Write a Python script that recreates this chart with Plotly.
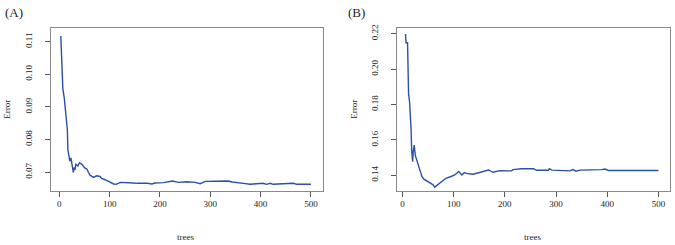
import plotly.graph_objects as go

trees_a = [3, 5, 6, 7, 10, 13, 16, 17, 19, 21, 23, 25, 28, 29, 31, 33, 37, 40, 45, 50, 55,
           58, 61, 68, 74, 81, 84, 91, 97, 104, 108, 113, 121, 147, 155, 175, 184, 190, 207, 225, 237,
           253, 270, 280, 290, 336, 343, 366, 379, 405, 412, 419, 425, 465, 472, 500]
err_a = [0.1117, 0.1006, 0.1000, 0.0956, 0.0925, 0.0885, 0.0830, 0.0769, 0.0754, 0.0734, 0.0744,
         0.0719, 0.0699, 0.0714, 0.0707, 0.0724, 0.0719, 0.0729, 0.0724, 0.0714, 0.0709,
         0.0699, 0.0691, 0.0684, 0.0689, 0.0687, 0.0681, 0.0677, 0.0672, 0.0667, 0.0664,
         0.0663, 0.0669, 0.0667, 0.0666, 0.0666, 0.0664, 0.0667, 0.0668, 0.0673, 0.0669,
         0.0671, 0.0669, 0.0665, 0.0672, 0.0673, 0.0670, 0.0666, 0.0663, 0.0666, 0.0663,
         0.0666, 0.0663, 0.0666, 0.0663, 0.0663]

trees_b = [6, 7, 10, 12, 14, 16, 17, 18, 20, 21, 23, 25, 27, 30, 33, 35, 38, 42, 46, 51,
           56, 60, 63, 66, 72, 79, 85, 95, 102, 110, 116, 121, 125, 138, 151, 168, 177, 190, 213, 216,
           233, 256, 262, 285, 287, 292, 327, 333, 339, 347, 389, 396, 402, 500]
err_b = [0.2198, 0.2149, 0.2149, 0.186, 0.1813, 0.1729, 0.1654, 0.1542, 0.1477, 0.1533,
         0.1570, 0.1514, 0.1495, 0.1467, 0.1439, 0.1411, 0.1393, 0.1378, 0.1370, 0.1365,
         0.1355, 0.1346, 0.1333, 0.1340, 0.1355, 0.1369, 0.1383, 0.1393, 0.1402, 0.1421,
         0.1402, 0.1415, 0.1411, 0.1406, 0.1417, 0.1430, 0.1417, 0.1426, 0.1425, 0.1432,
         0.1437, 0.1437, 0.1428, 0.1428, 0.1437, 0.1429, 0.1425, 0.1432, 0.1423, 0.1429,
         0.1432, 0.1435, 0.1427, 0.1427]

x_ticks = [0, 100, 200, 300, 400, 500]
y_ticks_a = [0.07, 0.08, 0.09, 0.10, 0.11]
y_ticks_b = [0.14, 0.16, 0.18, 0.20, 0.22]
panel_labels = ["(A)", "(B)"]
x_title = "trees"
y_title = "Error"

W, H = 675, 245
LINE = "#2a50a8"
FONT = "Liberation Serif"

fig = go.Figure()
fig.add_trace(go.Scatter(x=trees_a, y=err_a, mode="lines", line=dict(color=LINE, width=1.4),
                         xaxis="x", yaxis="y", showlegend=False))
fig.add_trace(go.Scatter(x=trees_b, y=err_b, mode="lines", line=dict(color=LINE, width=1.4),
                         xaxis="x2", yaxis="y2", showlegend=False))

def px(v):
    return v / W

def py(v):
    return 1 - v / H

axis_common = dict(showline=True, mirror=True, linecolor="#8a8a8a", linewidth=1,
                   ticks="outside", ticklen=5, tickcolor="#555", tickwidth=1,
                   showgrid=False, zeroline=False,
                   tickfont=dict(family=FONT, size=9, color="#222"))

ydom = [py(190), py(25)]
fig.update_layout(
    width=W, height=H, margin=dict(l=0, r=0, t=0, b=0),
    paper_bgcolor="white", plot_bgcolor="white",
    xaxis=dict(domain=[px(51), px(323)], range=[-16.5, 524], tickvals=x_ticks, anchor="y",
               **axis_common),
    yaxis=dict(domain=ydom, range=[0.06435, 0.11423], tickvals=y_ticks_a, tickangle=-90,
               tickformat=".2f", anchor="x", ticklabelstandoff=9, **axis_common),
    xaxis2=dict(domain=[px(397), px(670)], range=[-10.6, 522.6], tickvals=x_ticks, anchor="y2",
                **axis_common),
    yaxis2=dict(domain=ydom, range=[0.1313, 0.2234], tickvals=y_ticks_b, tickangle=-90,
                tickformat=".2f", anchor="x2", ticklabelstandoff=9, **axis_common),
)

ann_font = dict(family=FONT, size=9, color="#222")
anns = [
    dict(x=px(14), y=py(10), text=panel_labels[0], font=dict(family=FONT, size=13, color="#222")),
    dict(x=px(356), y=py(10), text=panel_labels[1], font=dict(family=FONT, size=13, color="#222")),
    dict(x=px(7), y=py(108), text=y_title, textangle=-90, font=ann_font),
    dict(x=px(354), y=py(108), text=y_title, textangle=-90, font=ann_font),
    dict(x=px(185), y=py(237), text=x_title, font=ann_font),
    dict(x=px(532), y=py(237), text=x_title, font=ann_font),
]
for a in anns:
    fig.add_annotation(xref="paper", yref="paper", xanchor="center", yanchor="middle",
                       showarrow=False, **a)

fig.write_html("out.html", config={"displayModeBar": False},
               post_script="document.body.style.margin='0';document.body.style.padding='0';")
